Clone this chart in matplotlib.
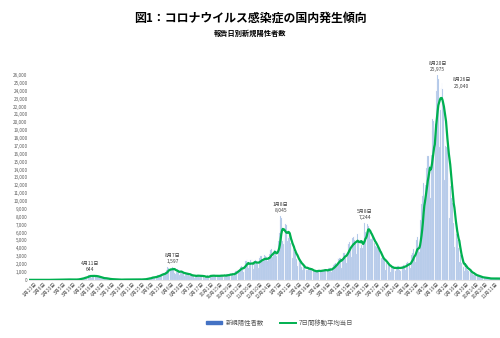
import matplotlib
matplotlib.use("Agg")
import matplotlib.pyplot as plt
import matplotlib.dates as mdates
from matplotlib.patches import Patch
from matplotlib.lines import Line2D
import pandas as pd

plt.rcParams['font.family'] = ['Noto Sans CJK JP', 'DejaVu Sans']

# Daily new positive cases (Japan), by report date, per month
y2020_01 = [1,0,0,0,0,0,0,1,1,0,2,1,3,4,3,2]  # from Jan 16
y2020_02 = [0,2,0,0,0,1,1,0,0,0,1,0,3,9,8,6,6,7,8,10,10,12,6,14,14,13,20,16,11]
y2020_03 = [10,14,18,26,33,24,50,32,26,59,52,56,55,64,36,13,39,44,39,35,49,42,38,65,93,96,112,194,173,87,225]
y2020_04 = [266,235,351,367,383,252,351,515,576,579,644,507,283,457,541,585,578,567,369,339,387,451,437,440,343,200,185,274,219,201]
y2020_05 = [164,303,203,179,123,87,96,124,104,115,64,48,82,56,99,53,29,31,28,32,47,28,34,25,21,17,31,45,46,65,40]
y2020_06 = [36,32,38,45,43,33,47,37,37,46,45,51,47,49,48,72,40,41,68,39,57,50,40,44,75,105,91,94,59,127]
y2020_07 = [130,195,249,274,206,159,208,355,418,430,408,252,259,333,450,623,589,667,509,420,633,795,981,766,840,721,597,981,1264,1300,1580]
y2020_08 = [1536,1331,950,1240,1357,1485,1597,1568,1442,815,700,985,1176,1356,1227,1016,649,917,1073,1017,1008,823,747,516,740,870,889,856,672,585,433]
y2020_09 = [644,591,632,522,574,480,280,510,500,647,659,648,458,304,445,561,505,618,584,385,289,257,185,479,551,582,446,265,520,626]
y2020_10 = [560,645,565,514,276,495,535,613,603,542,466,263,545,609,716,633,550,382,440,634,516,621,742,706,539,483,747,715,810,753,866]
y2020_11 = [617,484,857,1026,1083,1178,1331,1198,935,1279,1553,1656,1702,1737,1437,951,1698,2199,2387,2418,2596,2168,1518,1228,1937,2501,2536,2684,2058,1430]
y2020_12 = [2037,2431,2507,2433,2436,2024,1461,2070,2793,2973,2818,3031,2386,1681,2423,3210,3049,2995,2931,2407,1812,2880,3273,3738,3823,3876,2950,2392,3548,3852,4520]
y2021_01 = [3270,3058,3154,3330,4913,6001,7570,8045,7816,6094,4876,4541,5866,6605,7133,7014,5759,4920,5320,5533,5700,4714,4349,3990,2763,3852,3961,3543,3363,2744,2668]
y2021_02 = [1792,2311,2615,2356,2379,1898,1575,1225,1569,1724,1881,1357,1667,1303,1309,1299,1460,1526,1317,1372,1275,1067,921,1185,1075,1205,1148,984]
y2021_03 = [1002,1237,1294,1156,1135,1071,1065,1125,1296,1292,1294,1320,1280,1054,1066,1064,1512,1502,1467,1471,1119,1059,1519,1916,1922,2071,2089,1777,1785,2083,2837]
y2021_04 = [2634,2767,2795,2467,1566,2651,3451,3440,3438,3697,2779,2091,3452,4572,4532,4802,4800,4093,2926,4292,5283,5500,5119,5600,4603,3310,4892,5790,4680,4671]
y2021_05 = [5985,4051,4397,4400,4050,4364,6058,7244,6052,5200,6228,7057,6876,6266,6419,5250,3680,5240,5713,5353,5242,4711,4241,2842,4130,4441,4141,3889,3479,2698,1909]
y2021_06 = [2744,3013,2839,2710,2621,2176,1283,2085,2272,1982,1931,1941,1385,1018,1489,1744,1788,1677,1582,1312,1069,1414,1677,1770,1750,1628,1280,1074,1515,1779]
y2021_07 = [1772,1946,1959,1632,1218,1780,2186,2273,2336,2287,1852,1501,2384,3193,3432,3410,3874,3106,2325,3762,5049,5397,4225,4121,3574,4691,7629,9576,10699,10743,12341]
y2021_08 = [10173,8387,12018,14207,15263,15753,15743,14472,12069,10389,15812,18889,20365,20144,19955,14753,19846,23917,25156,25975,25492,22275,16849,21570,24316,25040,24175,22748,19297,12660,17000]
y2021_09 = [20018,16824,16762,15998,12948,7879,11928,12390,10379,9790,8228,7223,4169,6009,6791,5800,5097,4725,3999,2221,1743,3217,2097,2322,2126,1576,1128,1673,1575,1986]
y2021_10 = [1445,1230,1101,593,1148,1128,1107,814,772,627,372,611,735,621,507,569,429,232,388,436,345,332,305,246,154,313,293,280,257,196,162]
y2021_11 = [86,158,232,150,228,173,164,106,162,210,195,203,186,165,80,136]

months = [
    ("2020-01-16", y2020_01), ("2020-02-01", y2020_02), ("2020-03-01", y2020_03),
    ("2020-04-01", y2020_04), ("2020-05-01", y2020_05), ("2020-06-01", y2020_06),
    ("2020-07-01", y2020_07), ("2020-08-01", y2020_08), ("2020-09-01", y2020_09),
    ("2020-10-01", y2020_10), ("2020-11-01", y2020_11), ("2020-12-01", y2020_12),
    ("2021-01-01", y2021_01), ("2021-02-01", y2021_02), ("2021-03-01", y2021_03),
    ("2021-04-01", y2021_04), ("2021-05-01", y2021_05), ("2021-06-01", y2021_06),
    ("2021-07-01", y2021_07), ("2021-08-01", y2021_08), ("2021-09-01", y2021_09),
    ("2021-10-01", y2021_10), ("2021-11-01", y2021_11),
]

parts = []
for start, vals in months:
    idx = pd.date_range(start, periods=len(vals), freq="D")
    parts.append(pd.Series(vals, index=idx))
cases = pd.concat(parts)
assert cases.index.is_unique and (cases.index.to_series().diff().dropna() == pd.Timedelta(days=1)).all()
ma7 = cases.rolling(7, min_periods=1).mean()

annot_dates = ["2020-04-11", "2020-08-07", "2021-01-08", "2021-05-08", "2021-08-20", "2021-08-26"]
annot_labels = ["4月11日", "8月7日", "1月8日", "5月8日", "8月20日", "8月26日"]

fig = plt.figure(figsize=(5.0, 3.38), dpi=100)
ax = fig.add_axes([0.058, 0.172, 0.942, 0.606])

ax.bar(cases.index, cases.values, width=0.9, color="#a9c1e6", edgecolor="#dfe8f6", linewidth=0.15)
ax.plot(ma7.index, ma7.values, color="#00b050", linewidth=1.6)

ax.set_ylim(0, 26000)
ax.set_xlim(cases.index[0] - pd.Timedelta(days=1), cases.index[-1] + pd.Timedelta(days=1))
ax.set_yticks(range(0, 26001, 1000))
ax.set_yticklabels([f"{v:,}" for v in range(0, 26001, 1000)], fontsize=3.3, color="#595959")

xt = pd.date_range("2020-01-23", "2021-11-16", freq="14D")
ax.set_xticks(xt)
ax.set_xticklabels([f"{d.month}月{d.day}日" for d in xt], rotation=45, ha="right",
                   rotation_mode="anchor", fontsize=3.6, color="#595959")
ax.tick_params(axis="both", length=0, pad=1)
for s in ax.spines.values():
    s.set_visible(False)
ax.spines["bottom"].set_visible(True)
ax.spines["bottom"].set_color("#d9d9d9")
ax.spines["bottom"].set_linewidth(0.5)

for d, lab in zip(annot_dates, annot_labels):
    v = cases[d]
    if d == "2021-08-26":
        off = (20, -6)
    else:
        off = (0, 3)
    ax.annotate(f"{lab}\n{v:,}", xy=(pd.Timestamp(d), v), xytext=off, textcoords="offset pixels",
                ha="center", va="bottom", fontsize=3.6, color="#404040", linespacing=1.3)

fig.text(0.5, 0.945, "図1：コロナウイルス感染症の国内発生傾向", ha="center", va="center",
         fontsize=8.6, fontweight="bold", color="#000000")
fig.text(0.5, 0.902, "報告日別新規陽性者数", ha="center", va="center",
         fontsize=5.2, fontweight="bold", color="#000000")

handles = [Patch(facecolor="#4472c4", edgecolor="#4472c4"),
           Line2D([0], [0], color="#00b050", linewidth=1.4)]
fig.legend(handles, ["新規陽性者数", "7日間移動平均当日"], loc="center", bbox_to_anchor=(0.56, 0.045),
           ncol=2, frameon=False, fontsize=4.6, labelcolor="#595959", handlelength=2.5,
           handleheight=0.5, columnspacing=2.5, handletextpad=0.5)

fig.savefig("out.png", dpi=100)
